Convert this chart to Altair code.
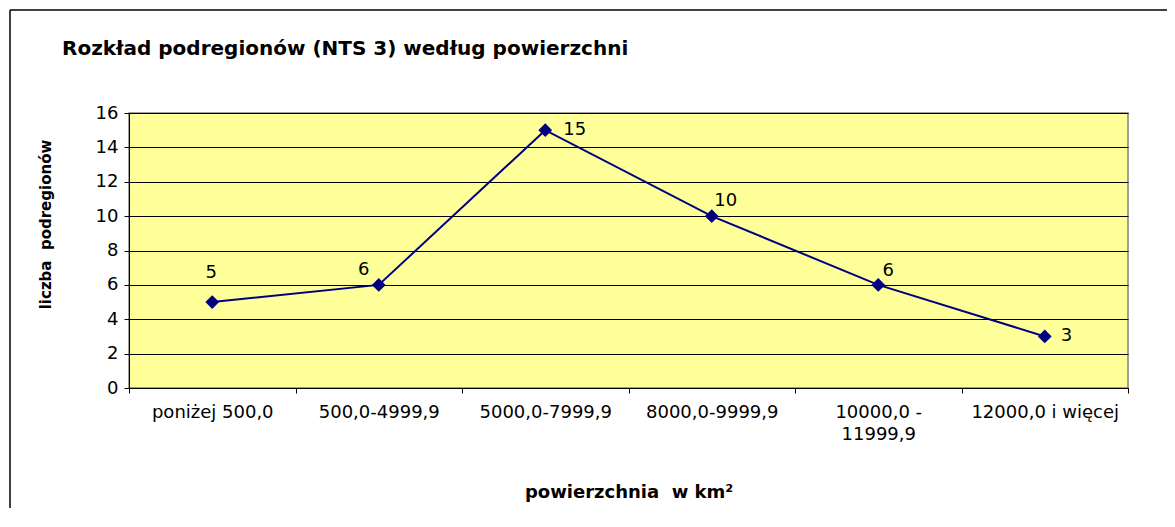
import altair as alt
import pandas as pd

categories = ["poniżej 500,0", "500,0-4999,9", "5000,0-7999,9", "8000,0-9999,9",
              "10000,0 - 11999,9", "12000,0 i więcej"]
counts = [5, 6, 15, 10, 6, 3]
y_ticks = [0, 2, 4, 6, 8, 10, 12, 14, 16]

title_text = "Rozkład podregionów (NTS 3) według powierzchni"
x_title = "powierzchnia\u00a0\u00a0w km²"
y_title = "liczba\u00a0\u00a0podregionów"

df = pd.DataFrame({"kategoria": categories, "liczba": counts})

FONT = "DejaVu Sans"
W, H = 999, 275
PAD_L, PAD_T, PAD_R, PAD_B = 121, 105, 39, 120
NAVY = "#000080"

x_enc = alt.X(
    "kategoria:N", sort=categories,
    scale=alt.Scale(type="band", paddingInner=0, paddingOuter=0),
    axis=alt.Axis(
        title=x_title, tickBand="extent", labelAngle=0,
        labelExpr="datum.label == '10000,0 - 11999,9' ? ['10000,0 -', '11999,9'] : datum.label",
        labelFontSize=18, labelPadding=10, labelLineHeight=22,
        titleFontSize=18, titleFontWeight="bold", titleX=W / 2, titleY=109,
        titleBaseline="alphabetic", titleAlign="center",
        domainColor="black", tickColor="black", tickSize=5, grid=False,
    ),
)
y_enc = alt.Y(
    "liczba:Q", scale=alt.Scale(domain=[0, 16], nice=False),
    axis=alt.Axis(
        title=y_title, values=y_ticks, grid=True, gridColor="black", gridWidth=1,
        gridOpacity=1, labelFontSize=18, labelPadding=6, labelOverlap=False,
        titleFontSize=15, titleFontWeight="bold", titleX=-84, titleY=111,
        titleAngle=270, titleAlign="center", titleBaseline="middle",
        domainColor="black", tickColor="black", tickSize=5,
    ),
)

base = alt.Chart(df)

line = base.mark_line(color=NAVY, strokeWidth=2).encode(x=x_enc, y=y_enc)
points = base.mark_point(shape="diamond", filled=True, size=190, color=NAVY, opacity=1).encode(
    x=x_enc, y=y_enc)

# label placement (offsets in pixels) per category, mimicking the reference
label_style = [
    (categories[0], -1, -29, "center"),
    (categories[1], -15, -15, "center"),
    (categories[2], 18, 0, "left"),
    (categories[3], 14, -15, "center"),
    (categories[4], 10, -14, "center"),
    (categories[5], 16, 0, "left"),
]
label_layers = []
for cat, dx, dy, align in label_style:
    label_layers.append(
        base.transform_filter(alt.datum.kategoria == cat)
        .mark_text(font=FONT, fontSize=18, color="black", dx=dx, dy=dy, align=align, baseline="middle")
        .encode(x=x_enc, y=y_enc, text="liczba:Q")
    )

single = alt.Data(values=[{"f": 1}])
frame_top = alt.Chart(single).mark_rule(color="black", strokeWidth=1.5).encode(
    x=alt.value(-119), x2=alt.value(W + PAD_R), y=alt.value(-103))
frame_left = alt.Chart(single).mark_rule(color="black", strokeWidth=1.5).encode(
    x=alt.value(-119), y=alt.value(-103), y2=alt.value(H + PAD_B))
title_mark = alt.Chart(single).mark_text(
    font=FONT, fontSize=20, fontWeight="bold", color="black", align="left", baseline="alphabetic"
).encode(x=alt.value(-67), y=alt.value(-58), text=alt.value(title_text))

chart = alt.layer(line, points, *label_layers, frame_top, frame_left, title_mark).properties(
    width=W, height=H,
    autosize=alt.AutoSizeParams(type="none"),
    padding={"left": PAD_L, "top": PAD_T, "right": PAD_R, "bottom": PAD_B},
).configure(
    background="white",
).configure_view(
    fill="#FFFF99", stroke="#808080", strokeWidth=1.5,
).configure_axis(
    labelFont=FONT, titleFont=FONT, labelColor="black", titleColor="black",
    domainWidth=1, tickWidth=1,
)

chart.save("out.html", embed_options={"renderer": "svg", "actions": False})
